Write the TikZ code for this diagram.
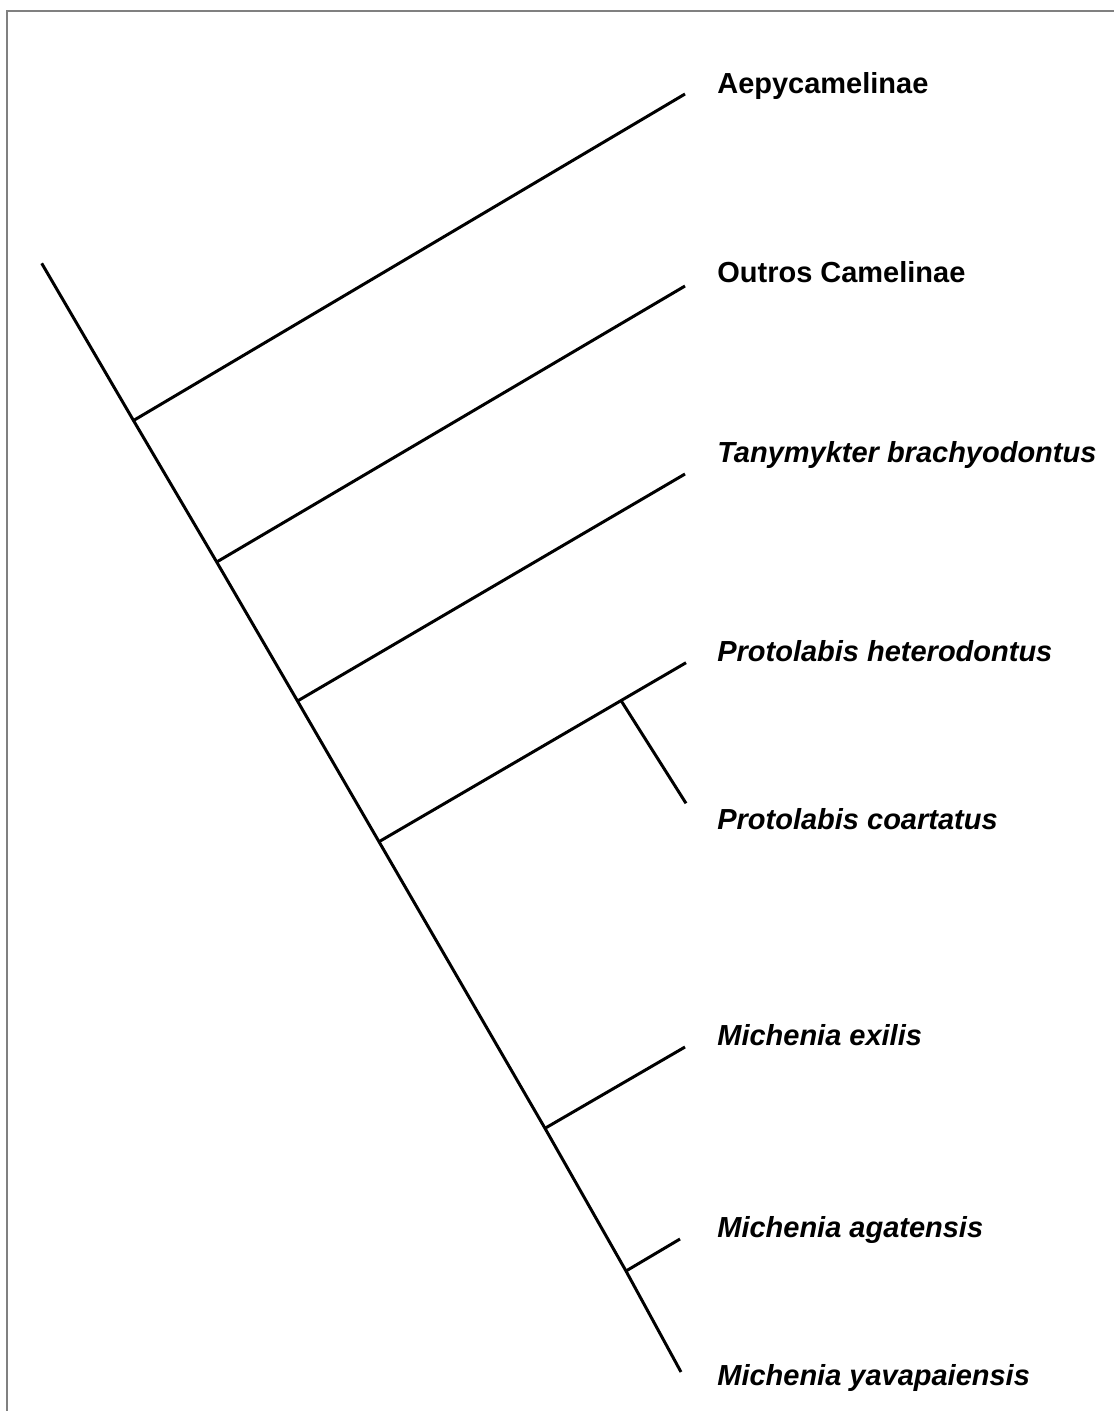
\documentclass[tikz,border=0pt]{standalone}
\usepackage{fontspec}
\setmainfont{Liberation Sans}
\usepackage{tikz}

\tikzset{
  ast/.style={line width=1.7pt},
  taxon/.style={anchor=base west, inner sep=0pt, font=\fontsize{16.5}{19}\selectfont\bfseries},
  art/.style={taxon, font=\fontsize{16.5}{19}\selectfont\bfseries\itshape}
}

\begin{document}
\begin{tikzpicture}[x=0.02cm,y=-0.02cm]
\useasboundingbox (0,0) rectangle (1114,1411);
\draw [gray, line width=1pt] (7,1411) -- (7,11) -- (1114,11);

% Stamm mit Verzweigungspunkten
\coordinate (wurzel) at (41.7,263.3); \coordinate (ende) at (681,1372);
\coordinate (k1) at (133.5,420.5); \coordinate (k2) at (216.7,562); \coordinate (k3) at (297.5,701);
\coordinate (k4) at (379,841.7); \coordinate (k5) at (545,1128.3); \coordinate (k6) at (626,1271);
\coordinate (kp) at (621,700.5);

% Enden der Aeste
\coordinate (t1) at (685,94); \coordinate (t2) at (685,286); \coordinate (t3) at (685,474);
\coordinate (t4) at (686,662.7); \coordinate (t5) at (686,803.3); \coordinate (t6) at (685,1047);
\coordinate (t7) at (680,1239);

\draw [ast] (wurzel) -- (k1) -- (k2) -- (k3) -- (k4) -- (k5) -- (k6) -- (ende);
\draw [ast] (k1) -- (t1); \draw [ast] (k2) -- (t2); \draw [ast] (k3) -- (t3);
\draw [ast] (k4) -- (t4); \draw [ast] (kp) -- (t5);
\draw [ast] (k5) -- (t6); \draw [ast] (k6) -- (t7);

% Taxa
\node [taxon] (aepy) at (717,93) {Aepycamelinae};
\node [taxon] (camel) at (717,282) {Outros Camelinae};
\node [art] (tany) at (717,462) {Tanymykter brachyodontus};
\node [art] (phet) at (717,661) {Protolabis heterodontus};
\node [art] (pcoa) at (717,829) {Protolabis coartatus};
\node [art] (mexi) at (717,1045) {Michenia exilis};
\node [art] (maga) at (717,1237) {Michenia agatensis};
\node [art] (myav) at (717,1385) {Michenia yavapaiensis};

\end{tikzpicture}
\end{document}
